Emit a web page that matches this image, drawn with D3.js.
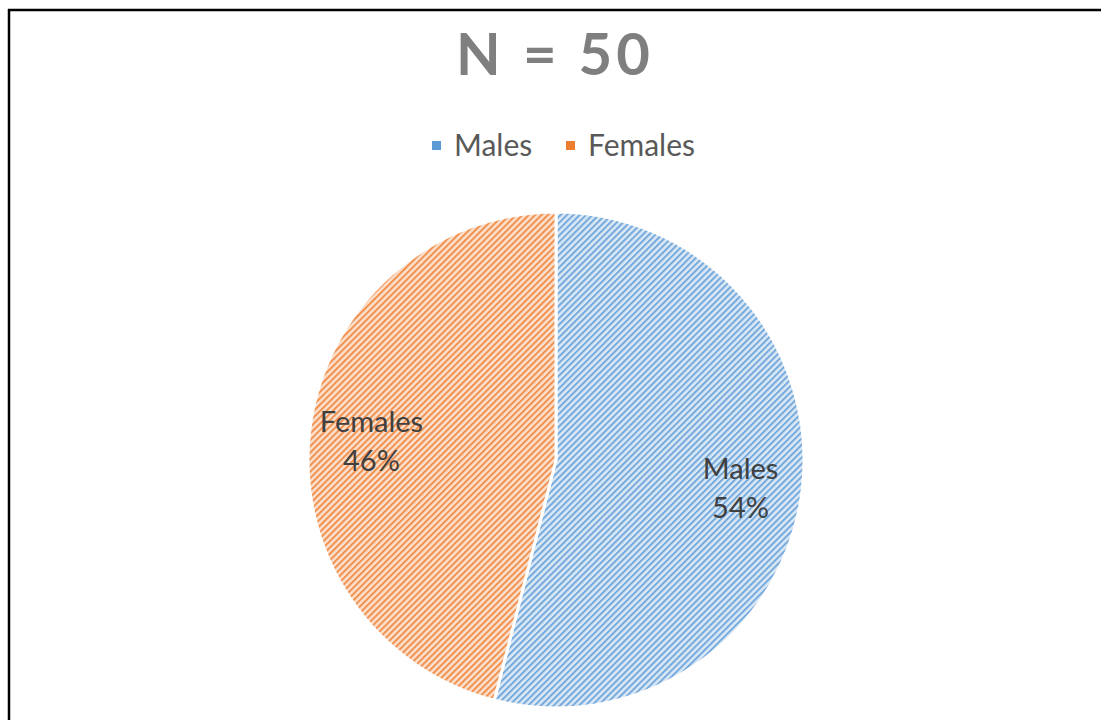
<!DOCTYPE html>
<html><head><meta charset="utf-8">
<script src="https://cdn.jsdelivr.net/npm/d3@7"></script>
<style>html,body{margin:0;padding:0;background:#fff;}svg{display:block;}</style>
</head><body>
<svg id="chart" width="1101" height="720"></svg>
<script>
const categories = ["Males", "Females"];
const values = [54, 46];
const colors = ["#5B9BD5", "#ED7D31"];
const tints = ["#dbe8f6", "#fbe0cd"];
const titleText = "N = 50";

const svg = d3.select("#chart");
const W = 1101, H = 720;

// frame
svg.append("line").attr("x1", 8).attr("x2", W).attr("y1", 10).attr("y2", 10).attr("stroke", "#000").attr("stroke-width", 2.5);
svg.append("line").attr("x1", 9).attr("x2", 9).attr("y1", 9).attr("y2", H).attr("stroke", "#000").attr("stroke-width", 2.5);

// patterns
const defs = svg.append("defs");
categories.forEach((c, i) => {
  const p = defs.append("pattern").attr("id", "pat" + i)
    .attr("patternUnits", "userSpaceOnUse").attr("width", 4.5).attr("height", 4.5)
    .attr("patternTransform", "rotate(-45)");
  p.append("rect").attr("width", 4.5).attr("height", 4.5).attr("fill", tints[i]);
  p.append("rect").attr("x", 0).attr("y", 0).attr("width", 4.5).attr("height", 2).attr("fill", colors[i]).attr("opacity", 0.8);
});

// title
svg.append("text").attr("x", 555).attr("y", 75).attr("text-anchor", "middle")
  .style("font-family", "Lato, 'Open Sans', sans-serif").style("font-weight", "bold")
  .style("font-size", "58px").style("letter-spacing", "4px").attr("fill", "#7f7f7f")
  .text(titleText);

// legend
const legendX = d3.scalePoint().domain(categories).range([432, 566]);
const lg = svg.append("g").selectAll("g").data(categories).join("g")
  .attr("transform", d => `translate(${legendX(d)},141)`);
lg.append("rect").attr("width", 9).attr("height", 9).attr("fill", (d, i) => colors[i]);
lg.append("text").attr("x", 22).attr("y", 15)
  .style("font-family", "Lato, 'Open Sans', sans-serif").style("font-size", "30px")
  .attr("fill", "#595959").text(d => d);

// pie
const cx = 556, cy = 460, r = 248;
const pie = d3.pie().sort(null).value(d => d.v);
const data = pie(categories.map((c, i) => ({ c, v: values[i], i })));
const arc = d3.arc().innerRadius(0).outerRadius(r);
const g = svg.append("g").attr("transform", `translate(${cx},${cy})`);
g.selectAll("path").data(data).join("path")
  .attr("d", arc).attr("fill", d => `url(#pat${d.data.i})`)
  .attr("stroke", "#fff").attr("stroke-width", 3).attr("stroke-linejoin", "round");

const total = d3.sum(values);
const labelArc = d3.arc().innerRadius(r * 0.75).outerRadius(r * 0.75);
const lab = g.selectAll("text.lab").data(data).join("text").attr("class", "lab")
  .attr("transform", d => { const [x, y] = labelArc.centroid(d); return `translate(${x},${y})`; })
  .attr("text-anchor", "middle")
  .style("font-family", "Lato, 'Open Sans', sans-serif").style("font-size", "29px").attr("fill", "#404040");
lab.append("tspan").attr("x", 0).attr("dy", "-0.15em").text(d => d.data.c);
lab.append("tspan").attr("x", 0).attr("dy", "1.35em").text(d => Math.round(d.data.v / total * 100) + "%");
</script>
</body></html>
